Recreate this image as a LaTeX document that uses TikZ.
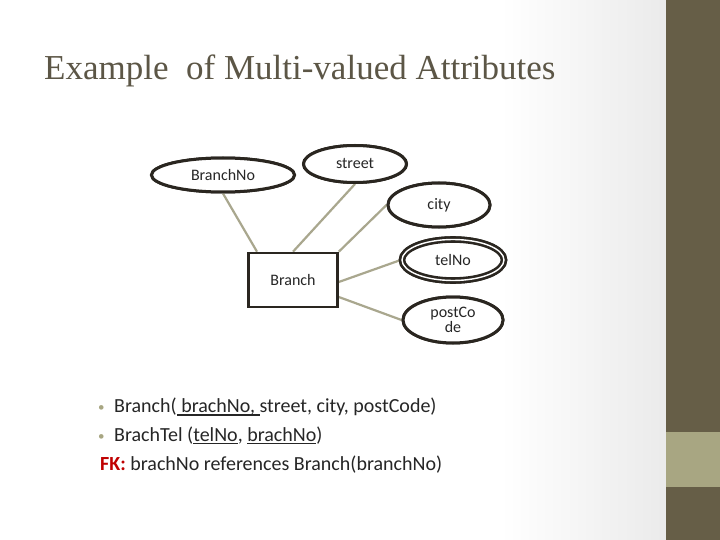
\documentclass[tikz,border=0pt]{standalone}
\usepackage{fontspec}
\setmainfont{Carlito}
\newfontfamily\titlefont{Liberation Serif}
\usetikzlibrary{shapes.geometric}
\definecolor{barolive}{HTML}{665E47}
\definecolor{lightolive}{HTML}{A8A682}
\definecolor{linecol}{HTML}{A9A78E}
\definecolor{edgecol}{HTML}{2A2620}
\definecolor{titlecol}{HTML}{5C5646}
\definecolor{txtcol}{HTML}{262626}
\definecolor{fkred}{HTML}{C00000}
\newcommand{\thkul}[1]{\setbox0\hbox{#1}\rlap{\rule[-3.5pt]{\wd0}{1.7pt}}\box0}
\newcommand{\thnul}[1]{\setbox0\hbox{#1}\rlap{\rule[-3pt]{\wd0}{0.9pt}}\box0}
\begin{document}
\begin{tikzpicture}[x=1pt,y=-1pt,
  lbl/.style={font=\fontsize{16}{17}\selectfont,text=txtcol},
  attr/.style={ellipse,draw=edgecol,line width=3pt,fill=white,inner sep=0pt,lbl,align=center},
  telattr/.style={ellipse,draw=edgecol,line width=2.6pt,double=white,double distance=1.4pt,fill=white,inner sep=0pt,lbl},
  entity/.style={rectangle,draw=edgecol,line width=2.6pt,fill=white,inner sep=0pt,
     minimum width=89pt,minimum height=54pt,lbl},
  conn/.style={draw=linecol,line width=2.2pt},
  body/.style={anchor=base west,inner sep=0pt,font=\fontsize{20}{22}\selectfont,text=txtcol},
  bul/.style={anchor=base west,inner sep=0pt,font=\fontsize{13}{14}\selectfont,text=lightolive}]
\useasboundingbox (0,0) rectangle (720,540);
% background
\fill[white] (0,0) rectangle (500,540);
\shade[left color=white,right color=black!8] (500,0) rectangle (666,540);
\fill[barolive] (666,0) rectangle (720,540);
\fill[lightolive] (666,432) rectangle (720,487);
% title
\node[anchor=base west,inner sep=0pt,text=titlecol,font=\titlefont\fontsize{35}{38}\selectfont] (title) at (44,80) {Example\ \ of Multi-valued Attributes};
% diagram nodes
\node[entity] (branch) at (293,280) {Branch};
\node[attr,minimum width=143pt,minimum height=34pt] (bno) at (223,175) {BranchNo};
\node[attr,minimum width=103pt,minimum height=37pt] (street) at (355,164) {street};
\node[attr,minimum width=102pt,minimum height=44pt] (city) at (439,205) {city};
\node[telattr,minimum width=102pt,minimum height=41pt] (tel) at (453,260) {telNo};
\node[attr,minimum width=100pt,minimum height=46pt] (post) at (453,320) {postCo\\[-2pt]de};
% connectors
\coordinate (b1) at ([xshift=-36pt]branch.north);
\draw[conn] (bno.south) -- (b1);
\draw[conn] (street.south) -- (branch.north);
\draw[conn] (city.west) -- (branch.north east);
\draw[conn] ([yshift=-2pt]branch.east) -- (tel.west);
\draw[conn] ([yshift=-17pt]branch.east) -- (post.west);
% redraw nodes on top of connectors
\node[entity] at (293,280) {Branch};
\node[attr,minimum width=143pt,minimum height=34pt] at (223,175) {BranchNo};
\node[attr,minimum width=103pt,minimum height=37pt] at (355,164) {street};
\node[attr,minimum width=102pt,minimum height=44pt] at (439,205) {city};
\node[telattr,minimum width=102pt,minimum height=41pt] at (453,260) {telNo};
\node[attr,minimum width=100pt,minimum height=46pt] at (453,320) {postCo\\[-2pt]de};
% text
\node[bul] (bu1) at (98,411) {\textbullet};
\node[body] (l1) at (114,412) {Branch(\thkul{\ brachNo,\ }street, city, postCode)};
\node[bul] (bu2) at (98,440) {\textbullet};
\node[body] (l2) at (114,441) {BrachTel (\thnul{telNo}, \thnul{brachNo})};
\node[body] (l3) at (100,470) {\textcolor{fkred}{\textbf{FK:}} brachNo references Branch(branchNo)};
\end{tikzpicture}
\end{document}
